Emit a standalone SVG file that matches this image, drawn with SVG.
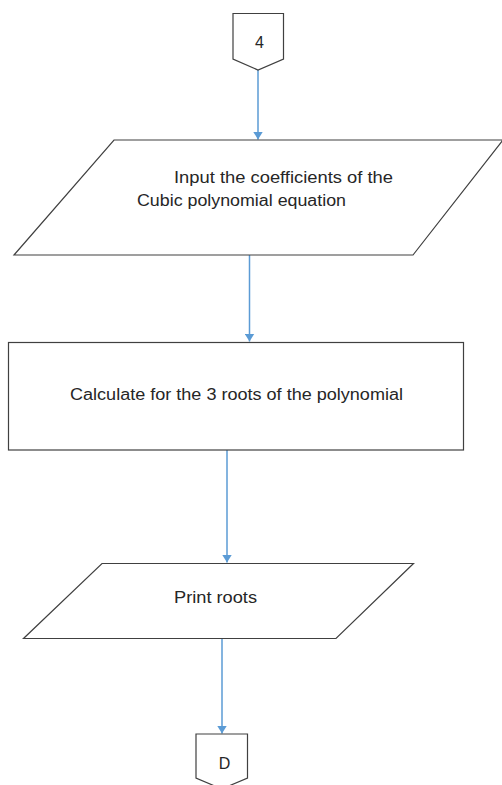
<svg xmlns="http://www.w3.org/2000/svg" width="502" height="785" viewBox="0 0 502 785">
<defs>
<style>
.shape{fill:#ffffff;stroke:#404040;stroke-width:1.2}
.lbl{font-family:"Liberation Sans","Open Sans",sans-serif;font-size:16px;fill:#262626}
.conn{stroke:#5B9BD5;stroke-width:1.5;fill:none}
</style>
<marker id="ah" markerWidth="10" markerHeight="10" refX="8" refY="5" orient="auto" markerUnits="userSpaceOnUse">
<path d="M0,0 L8,5 L0,10 Z" fill="#5B9BD5"/>
</marker>
</defs>
<rect width="502" height="785" fill="#ffffff"/>
<g id="connectors">
<line class="conn" x1="258" y1="70" x2="258" y2="139.5" marker-end="url(#ah)"/>
<line class="conn" x1="249.5" y1="255" x2="249.5" y2="341.5" marker-end="url(#ah)"/>
<line class="conn" x1="227" y1="450" x2="227" y2="562.5" marker-end="url(#ah)"/>
<line class="conn" x1="222" y1="638" x2="222" y2="733.5" marker-end="url(#ah)"/>
</g>
<g id="n4">
<path class="shape" d="M233,13.5 H283.5 V59 L258,70 L233,59 Z"/>
<text class="lbl" x="259.5" y="47.5" text-anchor="middle">4</text>
</g>
<g id="input">
<path class="shape" d="M114,140 H503 L413,255 H14 Z"/>
<text class="lbl" x="174" y="182.5" textLength="219" lengthAdjust="spacingAndGlyphs">Input the coefficients of the</text>
<text class="lbl" x="137" y="205.5" textLength="209" lengthAdjust="spacingAndGlyphs">Cubic polynomial equation</text>
</g>
<g id="calc">
<rect class="shape" x="8.5" y="342.5" width="455" height="107.5"/>
<text class="lbl" x="70" y="400" textLength="333" lengthAdjust="spacingAndGlyphs">Calculate for the 3 roots of the polynomial</text>
</g>
<g id="print">
<path class="shape" d="M102,563.5 H413.5 L336,638.5 H23.5 Z"/>
<text class="lbl" x="174" y="603" textLength="83" lengthAdjust="spacingAndGlyphs">Print roots</text>
</g>
<g id="nD">
<path class="shape" d="M196,734 H247.5 V778 L221.75,789 L196,778 Z"/>
<text class="lbl" x="224.5" y="769" text-anchor="middle">D</text>
</g>
</svg>
